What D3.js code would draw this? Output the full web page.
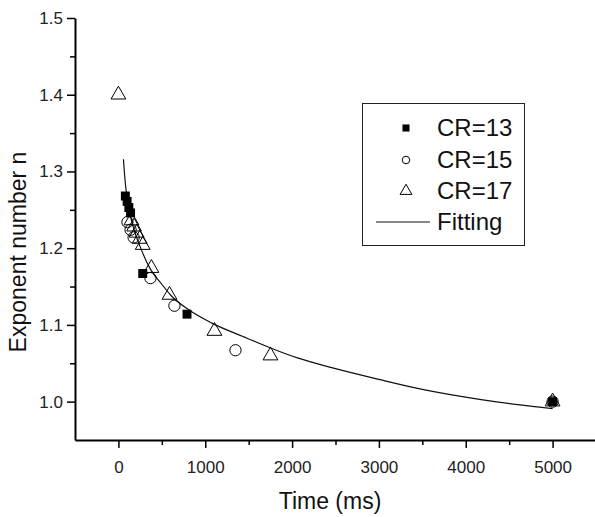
<!DOCTYPE html>
<html>
<head>
<meta charset="utf-8">
<script src="https://cdn.jsdelivr.net/npm/d3@7"></script>
<style>
  body { margin: 0; background: #fff; }
  text { font-family: "Liberation Sans", Arial, sans-serif; fill: #111; }
</style>
</head>
<body>
<div id="chart"></div>
<script>
// values: [time (ms), exponent n]
var cr13 = [[80, 1.268], [100, 1.261], [120, 1.253], [140, 1.246], [280, 1.167], [790, 1.114], [5000, 1.0]];
var cr15 = [[104, 1.234], [140, 1.224], [175, 1.214], [369, 1.161], [645, 1.125], [1348, 1.067], [5000, 1.0]];
var cr17 = [[0, 1.40], [150, 1.236], [180, 1.228], [210, 1.220], [245, 1.212], [280, 1.204], [380, 1.174],
            [588, 1.139], [1106, 1.092], [1751, 1.060], [5000, 1.0]];
var fitting = [[58, 1.316], [80, 1.284], [100, 1.266], [127, 1.248], [180, 1.224], [250, 1.202], [357, 1.175],
               [500, 1.153], [600, 1.139], [818, 1.119], [1083, 1.102], [1475, 1.083], [1774, 1.069],
               [2062, 1.057], [2500, 1.043], [3000, 1.029], [3500, 1.016], [4159, 1.003], [4600, 0.996], [5000, 0.991]];

var xTicks = [0, 1000, 2000, 3000, 4000, 5000];
var xMinor = [500, 1500, 2500, 3500, 4500];
var yTicks = [1.0, 1.1, 1.2, 1.3, 1.4, 1.5];
var yMinor = [1.05, 1.15, 1.25, 1.35, 1.45];
var legendNames = ['CR=13', 'CR=15', 'CR=17', 'Fitting'];

var svg = d3.select('#chart').append('svg')
            .attr('width', 595)
            .attr('height', 517);

var x = d3.scaleLinear().domain([-500, 5500]).range([75, 596]);
var y = d3.scaleLinear().domain([0.95, 1.5]).range([440, 18]);

// minor ticks
svg.append('g')
   .attr('transform', 'translate(0,440)')
   .call(d3.axisBottom(x).tickValues(xMinor).tickSize(5).tickSizeOuter(0).tickFormat(''))
   .call(function (g) { g.select('.domain').remove(); });
svg.append('g')
   .attr('transform', 'translate(75,0)')
   .call(d3.axisLeft(y).tickValues(yMinor).tickSize(5).tickSizeOuter(0).tickFormat(''))
   .call(function (g) { g.select('.domain').remove(); });

// major ticks
svg.append('g')
   .attr('transform', 'translate(0,440)')
   .call(d3.axisBottom(x).tickValues(xTicks).tickSize(8).tickSizeOuter(0).tickPadding(13).tickFormat(d3.format('d')));
svg.append('g')
   .attr('transform', 'translate(75,0)')
   .call(d3.axisLeft(y).tickValues(yTicks).tickSize(8).tickSizeOuter(0).tickPadding(4).tickFormat(d3.format('.1f')));

svg.selectAll('.domain').attr('stroke', '#000').attr('stroke-width', 2);
svg.selectAll('.tick line').attr('stroke', '#000').attr('stroke-width', 1.5);
svg.selectAll('.tick text').style('font-size', '17px').style('fill', '#222')
   .style('font-family', '"Liberation Sans", Arial, sans-serif');

// axis titles
svg.append('text')
   .attr('x', 330).attr('y', 509)
   .attr('text-anchor', 'middle')
   .style('font-size', '23px')
   .text('Time (ms)');
svg.append('text')
   .attr('transform', 'translate(26,252) rotate(-90)')
   .attr('text-anchor', 'middle')
   .style('font-size', '23px')
   .text('Exponent number n');

// fitting line
var line = d3.line()
             .x(function (d) { return x(d[0]); })
             .y(function (d) { return y(d[1]); })
             .curve(d3.curveMonotoneX);
svg.append('path')
   .datum(fitting)
   .attr('d', line)
   .attr('fill', 'none')
   .attr('stroke', '#111')
   .attr('stroke-width', 1.2);

// markers
var sq = d3.symbol().type(d3.symbolSquare).size(80);
var ci = d3.symbol().type(d3.symbolCircle).size(100);
var tr = d3.symbol().type(d3.symbolTriangle).size(95);

function pos(d) { return 'translate(' + x(d[0]) + ',' + y(d[1]) + ')'; }

svg.append('g').selectAll('path')
   .data(cr13).enter().append('path')
   .attr('d', sq)
   .attr('transform', pos)
   .attr('fill', '#000');

svg.append('g').selectAll('path')
   .data(cr15).enter().append('path')
   .attr('d', ci)
   .attr('transform', pos)
   .attr('fill', 'none')
   .attr('stroke', '#000')
   .attr('stroke-width', 1);

svg.append('g').selectAll('path')
   .data(cr17).enter().append('path')
   .attr('d', tr)
   .attr('transform', pos)
   .attr('fill', 'none')
   .attr('stroke', '#000')
   .attr('stroke-width', 1);

// legend
var lg = svg.append('g');
lg.append('rect')
  .attr('x', 362.5).attr('y', 103.5)
  .attr('width', 162).attr('height', 142)
  .attr('fill', '#fff')
  .attr('stroke', '#222')
  .attr('stroke-width', 1);

var rowY = [128, 160, 191, 222];
var legendSym = [d3.symbol().type(d3.symbolSquare).size(50),
                 d3.symbol().type(d3.symbolCircle).size(45),
                 d3.symbol().type(d3.symbolTriangle).size(60)];
for (var i = 0; i < 3; i++) {
    lg.append('path')
      .attr('d', legendSym[i])
      .attr('transform', 'translate(406,' + rowY[i] + ')')
      .attr('fill', i === 0 ? '#000' : 'none')
      .attr('stroke', '#000')
      .attr('stroke-width', i === 0 ? 0 : 1);
}
lg.append('line')
  .attr('x1', 376).attr('x2', 430)
  .attr('y1', rowY[3]).attr('y2', rowY[3])
  .attr('stroke', '#111')
  .attr('stroke-width', 1.2);

lg.selectAll('text.name')
  .data(legendNames).enter().append('text')
  .attr('class', 'name')
  .attr('x', 437)
  .attr('y', function (d, i) { return rowY[i] + 8; })
  .style('font-size', '24px')
  .text(function (d) { return d; });
</script>
</body>
</html>
